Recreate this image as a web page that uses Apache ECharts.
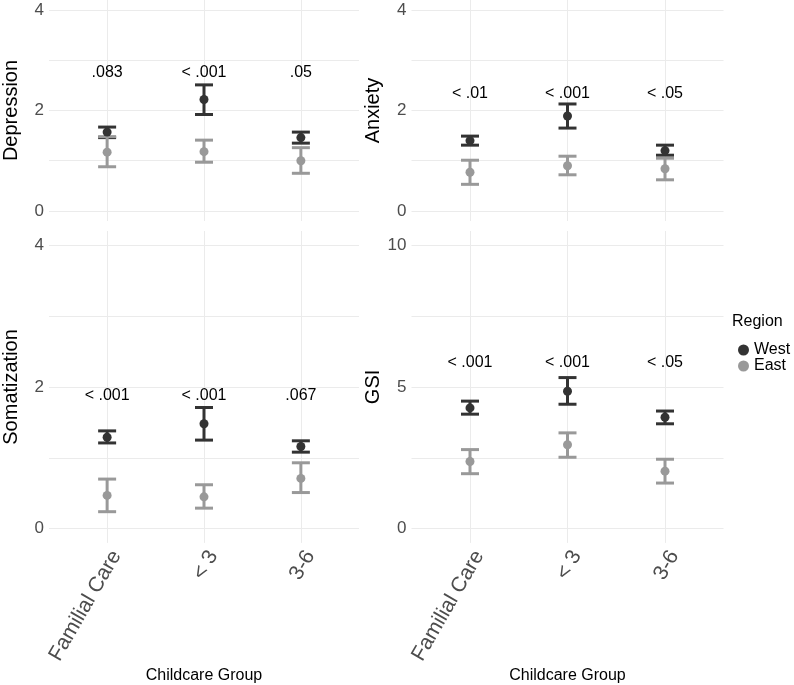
<!DOCTYPE html>
<html>
<head>
<meta charset="utf-8">
<script src="https://cdn.jsdelivr.net/npm/echarts@6/dist/echarts.min.js"></script>
<style>
  html, body { margin: 0; padding: 0; background: #fff; }
  #chart { width: 794px; height: 685px; }
</style>
</head>
<body>
<div id="chart"></div>
<script>
  // childcare groups on the x axis
  const categories = ['Familial Care', '< 3', '3-6']
  const regions = ['West', 'East']

  // [mean, lower, upper] per childcare group
  const depressionWest = [[1.57, 1.46, 1.67], [2.22, 1.92, 2.51], [1.46, 1.35, 1.57]]
  const depressionEast = [[1.17, 0.88, 1.48], [1.18, 0.97, 1.41], [1.00, 0.75, 1.26]]
  const anxietyWest = [[1.40, 1.31, 1.49], [1.89, 1.65, 2.13], [1.20, 1.11, 1.31]]
  const anxietyEast = [[0.77, 0.53, 1.01], [0.90, 0.72, 1.09], [0.84, 0.62, 1.05]]
  const somatizationWest = [[1.29, 1.21, 1.38], [1.48, 1.25, 1.71], [1.16, 1.08, 1.24]]
  const somatizationEast = [[0.47, 0.24, 0.70], [0.45, 0.29, 0.62], [0.71, 0.51, 0.93]]
  const gsiWest = [[4.26, 4.04, 4.50], [4.85, 4.39, 5.33], [3.93, 3.70, 4.15]]
  const gsiEast = [[2.37, 1.94, 2.79], [2.96, 2.52, 3.38], [2.03, 1.61, 2.45]]

  // p values printed above each group
  const depressionP = ['.083', '< .001', '.05']
  const anxietyP = ['< .01', '< .001', '< .05']
  const somatizationP = ['< .001', '< .001', '.067']
  const gsiP = ['< .001', '< .001', '< .05']

  // y axis labels and grid lines
  const smallTicks = [0, 2, 4]
  const smallGrid = [0, 1, 2, 3, 4]
  const gsiTicks = [0, 5, 10]
  const gsiGrid = [0, 2.5, 5, 7.5, 10]

  const colors = { West: '#333333', East: '#999999' }
  const font = 'Liberation Sans, Arial, sans-serif'

  const panels = [
    { title: 'Depression', west: depressionWest, east: depressionEast, p: depressionP, ticks: smallTicks, grid: smallGrid, max: 4,
      rect: { left: 47, top: 0, width: 312, height: 221 }, bottom: false },
    { title: 'Anxiety', west: anxietyWest, east: anxietyEast, p: anxietyP, ticks: smallTicks, grid: smallGrid, max: 4,
      rect: { left: 411.5, top: 0, width: 312, height: 221 }, bottom: false },
    { title: 'Somatization', west: somatizationWest, east: somatizationEast, p: somatizationP, ticks: smallTicks, grid: smallGrid, max: 4,
      rect: { left: 47, top: 231, width: 312, height: 312 }, bottom: true },
    { title: 'GSI', west: gsiWest, east: gsiEast, p: gsiP, ticks: gsiTicks, grid: gsiGrid, max: 10,
      rect: { left: 411.5, top: 231, width: 312, height: 312 }, bottom: true }
  ]

  const grid = []
  const xAxis = []
  const yAxis = []
  const series = []

  function errorBar(color) {
    return function (params, api) {
      const x = api.value(0)
      const top = api.coord([x, api.value(2)])
      const bot = api.coord([x, api.value(1)])
      const half = 9
      const style = { stroke: color, lineWidth: 3, fill: null }
      return {
        type: 'group',
        children: [
          { type: 'line', shape: { x1: top[0], y1: top[1], x2: bot[0], y2: bot[1] }, style: style },
          { type: 'line', shape: { x1: top[0] - half, y1: top[1], x2: top[0] + half, y2: top[1] }, style: style },
          { type: 'line', shape: { x1: bot[0] - half, y1: bot[1], x2: bot[0] + half, y2: bot[1] }, style: style }
        ]
      }
    }
  }

  panels.forEach(function (p, i) {
    const pad = p.max * 0.05
    grid.push(Object.assign({ containLabel: false }, p.rect))
    xAxis.push({
      type: 'value',
      gridIndex: i,
      min: 0.4,
      max: 3.6,
      axisLine: { show: false },
      axisTick: { show: false, customValues: [1, 2, 3] },
      splitLine: { show: true, lineStyle: { color: '#ebebeb', width: 1 } },
      axisLabel: {
        show: p.bottom,
        customValues: [1, 2, 3],
        formatter: function (v) { return categories[Math.round(v) - 1] },
        rotate: 60,
        margin: 4,
        verticalAlign: 'top',
        fontSize: 21,
        color: '#4d4d4d',
        fontFamily: font
      },
      name: p.bottom ? 'Childcare Group' : '',
      nameLocation: 'middle',
      nameGap: 125,
      nameTextStyle: { fontSize: 16, color: '#000', fontFamily: font }
    })
    yAxis.push({
      type: 'value',
      gridIndex: i,
      min: -pad,
      max: p.max + pad,
      axisLine: { show: false },
      axisTick: { show: false, customValues: p.grid },
      splitLine: { show: true, lineStyle: { color: '#ebebeb', width: 1 } },
      axisLabel: { customValues: p.ticks, margin: 5, fontSize: 17, color: '#4d4d4d', fontFamily: font },
      name: p.title,
      nameLocation: 'middle',
      nameGap: 28,
      nameRotate: 90,
      nameTextStyle: { fontSize: 20, color: '#000', fontFamily: font }
    })

    const sets = { West: p.west, East: p.east }
    regions.forEach(function (r) {
      series.push({
        type: 'scatter',
        name: r,
        xAxisIndex: i,
        yAxisIndex: i,
        symbol: 'circle',
        symbolSize: 9,
        itemStyle: { color: colors[r], opacity: 1 },
        data: sets[r].map(function (d, k) { return [k + 1, d[0]] }),
        z: 3
      })
    })
    regions.forEach(function (r) {
      series.push({
        type: 'custom',
        name: r,
        xAxisIndex: i,
        yAxisIndex: i,
        itemStyle: { color: colors[r] },
        renderItem: errorBar(colors[r]),
        data: sets[r].map(function (d, k) { return [k + 1, d[1], d[2]] }),
        z: 2
      })
    })

    // p labels sit at 1.1 times the highest upper bound of the panel
    const highest = Math.max.apply(null, p.west.concat(p.east).map(function (d) { return d[2] }))
    series.push({
      type: 'custom',
      xAxisIndex: i,
      yAxisIndex: i,
      data: categories.map(function (c, k) { return [k + 1, highest * 1.1] }),
      renderItem: function (params, api) {
        const pt = api.coord([api.value(0), api.value(1)])
        return {
          type: 'text',
          x: pt[0],
          y: pt[1],
          style: {
            text: p.p[params.dataIndex],
            align: 'center',
            verticalAlign: 'middle',
            fontSize: 16,
            fill: '#000',
            fontFamily: font
          }
        }
      },
      z: 4
    })
  })

  const option = {
    animation: false,
    backgroundColor: '#fff',
    grid: grid,
    xAxis: xAxis,
    yAxis: yAxis,
    legend: {
      data: regions,
      orient: 'vertical',
      left: 733,
      top: 337,
      icon: 'circle',
      itemWidth: 11,
      itemHeight: 11,
      itemGap: 0,
      textStyle: { fontSize: 16, color: '#000', fontFamily: font, lineHeight: 16 }
    },
    graphic: [
      {
        type: 'text',
        left: 732,
        top: 314,
        style: { text: 'Region', fontSize: 16, fill: '#000', fontFamily: font }
      }
    ],
    series: series
  }

  const chart = echarts.init(document.getElementById('chart'))
  chart.setOption(option)
</script>
</body>
</html>
